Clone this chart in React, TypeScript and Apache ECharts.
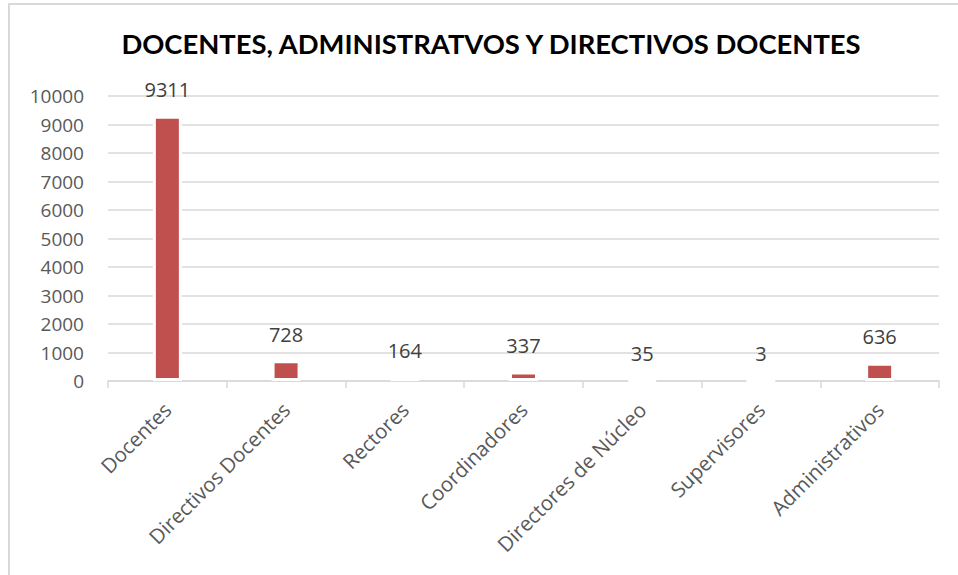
import React, { useEffect, useRef } from "react";
import * as echarts from "echarts";

const categories = [
  "Docentes",
  "Directivos Docentes",
  "Rectores",
  "Coordinadores",
  "Directores de Núcleo",
  "Supervisores",
  "Administrativos",
];
const values = [9311, 728, 164, 337, 35, 3, 636];
const titleText = "DOCENTES, ADMINISTRATVOS Y DIRECTIVOS DOCENTES";

export default function App() {
  const ref = useRef<HTMLDivElement>(null);
  useEffect(() => {
    if (!ref.current) return;
    const chart = echarts.init(ref.current, null, { renderer: "svg" });
    chart.setOption({
      animation: false,
      backgroundColor: "#ffffff",
      title: {
        text: titleText,
        left: 486,
        textAlign: "center",
        top: 25,
        textStyle: {
          fontFamily: "Lato",
          fontWeight: "bold",
          fontSize: 27.4,
          color: "#000000",
        },
      },
      graphic: [
        {
          type: "rect",
          shape: { x: 9, y: 4, width: 2000, height: 2000 },
          style: { fill: "none", stroke: "#d9d9d9", lineWidth: 2 },
          silent: true,
          z: -1,
        },
      ],
      grid: { left: 108, right: 19, top: 96, bottom: 194 },
      xAxis: {
        type: "category",
        data: categories,
        axisLine: { lineStyle: { color: "#d9d9d9", width: 1.5 } },
        axisTick: { show: true, length: 7, lineStyle: { color: "#d9d9d9", width: 1.5 } },
        axisLabel: {
          rotate: 45,
          interval: 0,
          margin: 25,
          fontFamily: "Open Sans",
          fontSize: 20.5,
          color: "#595959",
        },
      },
      yAxis: {
        type: "value",
        min: 0,
        max: 10000,
        interval: 1000,
        axisLine: { show: false },
        axisTick: { show: false },
        splitLine: { lineStyle: { color: "#d9d9d9", width: 1.5 } },
        axisLabel: {
          margin: 24,
          fontFamily: "Open Sans",
          fontSize: 19,
          color: "#595959",
          formatter: (v: number) => String(v),
        },
      },
      series: [
        {
          type: "bar",
          data: values,
          barWidth: 29,
          itemStyle: { color: "#c0504d", borderColor: "#ffffff", borderWidth: 3 },
          label: {
            show: true,
            position: "top",
            distance: 16,
            fontFamily: "Open Sans",
            fontSize: 20,
            color: "#404040",
          },
        },
      ],
    });
    return () => chart.dispose();
  }, []);
  return (
    <div
      ref={ref}
      style={{ position: "fixed", left: 0, top: 0, width: 958, height: 575 }}
    />
  );
}
